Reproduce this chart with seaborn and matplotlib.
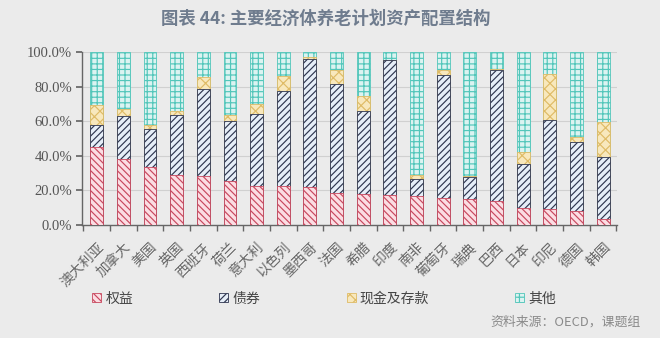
import matplotlib
matplotlib.use('Agg')
import matplotlib.pyplot as plt
import seaborn as sns
import numpy as np
import pandas as pd
from matplotlib.patches import Patch
from matplotlib.ticker import FuncFormatter

countries = ['澳大利亚', '加拿大', '美国', '英国', '西班牙', '荷兰', '意大利', '以色列',
             '墨西哥', '法国', '希腊', '印度', '南非', '葡萄牙', '瑞典', '巴西', '日本',
             '印尼', '德国', '韩国']
equity = [44.8, 37.9, 33.7, 28.8, 28.3, 25.5, 22.5, 22.5, 22.1, 18.7, 17.9, 17.3, 16.5,
          15.4, 14.8, 13.8, 9.6, 9.0, 8.1, 3.3]
bonds = [13.2, 25.0, 21.5, 34.7, 50.5, 34.6, 41.9, 55.0, 74.1, 63.0, 48.1, 77.9, 9.9,
         71.1, 12.7, 76.0, 25.6, 51.6, 40.0, 36.1]
cash = [11.6, 4.4, 2.5, 2.3, 6.8, 3.4, 5.4, 8.7, 0.8, 7.7, 8.4, 0.4, 2.7, 2.9, 0.8, 0.6,
        7.1, 26.9, 2.5, 20.2]
other = [30.4, 32.7, 42.3, 34.2, 14.4, 36.5, 30.2, 13.8, 3.0, 10.6, 25.6, 4.4, 70.9, 10.6,
         71.7, 9.6, 57.7, 12.5, 49.4, 40.4]
series_names = ['权益', '债券', '现金及存款', '其他']
y_ticks = [0, 20, 40, 60, 80, 100]

sns.set_theme(style='white')
plt.rcParams['font.family'] = ['Noto Sans CJK SC', 'DejaVu Sans']
plt.rcParams['hatch.linewidth'] = 0.85

BG = '#ebebeb'
fig = plt.figure(figsize=(6.6, 3.38), dpi=100, facecolor=BG)
ax = fig.add_axes([0.1242, 0.3343, 0.8106, 0.5119])
ax.set_facecolor(BG)

df = pd.DataFrame({'country': countries, 'equity': equity, 'bonds': bonds,
                   'cash': cash, 'other': other})
c1 = df['equity']
c2 = c1 + df['bonds']
c3 = c2 + df['cash']
c4 = c3 + df['other']

styles = {
    '权益': dict(face='#fbdde3', edge='#c8485e', hatch='\\\\\\\\\\'),
    '债券': dict(face='#e6eef8', edge='#2f3650', hatch='/////'),
    '现金及存款': dict(face='#f8e8bd', edge='#dfbb66', hatch='xxx'),
    '其他': dict(face='#dcf3f1', edge='#52c6ba', hatch='+++'),
}
layers = [('其他', c4), ('现金及存款', c3), ('债券', c2), ('权益', c1)]
for name, vals in layers:
    st = styles[name]
    d = pd.DataFrame({'country': countries, 'v': vals.values})
    sns.barplot(data=d, x='country', y='v', order=countries, color=st['face'],
                edgecolor=st['edge'], hatch=st['hatch'], linewidth=0.6, width=0.48,
                saturation=1, errorbar=None, ax=ax, zorder=3)

ax.set_xlabel('')
ax.set_ylabel('')
ax.set_xlim(-0.55, 19.52)
ax.set_ylim(0, 100)
ax.set_yticks(y_ticks)
ax.yaxis.set_major_formatter(FuncFormatter(lambda v, p: f'{v:.1f}%'))
ax.yaxis.grid(True, color='#d0d0d0', lw=0.8, zorder=0)
ax.xaxis.grid(False)
ax.set_axisbelow(True)

for s in ['top', 'right']:
    ax.spines[s].set_visible(False)
for s in ['left', 'bottom']:
    ax.spines[s].set_color('#666666')
    ax.spines[s].set_linewidth(1.0)

ax.tick_params(axis='y', which='major', left=True, direction='out', length=4,
               color='#666666', labelsize=10.5, labelcolor='#555555', pad=3,
               labelfontfamily='Liberation Serif')
ax.set_xticks(np.arange(-0.5, 20, 1), minor=True)
ax.tick_params(axis='x', which='minor', bottom=True, direction='out', length=4,
               color='#666666')
ax.tick_params(axis='x', which='major', bottom=False, length=0, pad=11,
               labelsize=10, labelcolor='#666666')
ax.set_xticks(range(len(countries)))
ax.set_xticklabels(countries, rotation=45, ha='right', rotation_mode='anchor')

handles = [Patch(facecolor=styles[n]['face'], edgecolor=styles[n]['edge'],
                 hatch=styles[n]['hatch'], linewidth=0.6) for n in series_names]
leg = fig.legend(handles, series_names, loc='center left', bbox_to_anchor=(0.14, 0.117),
                 ncol=4, frameon=False, fontsize=10, handlelength=0.65, handleheight=0.65,
                 handletextpad=0.3, columnspacing=6.2, borderaxespad=0, borderpad=0)
for t in leg.get_texts():
    t.set_color('#444444')

fig.text(0.493, 0.945, '图表 44: 主要经济体养老计划资产配置结构', ha='center', va='center',
         fontsize=12.5, fontweight='bold', color='#6f7c8e')
fig.text(0.97, 0.047, '资料来源：OECD，课题组', ha='right', va='center', fontsize=9.3,
         color='#8a8a8a')

fig.savefig('out.png', dpi=100, facecolor=BG)
